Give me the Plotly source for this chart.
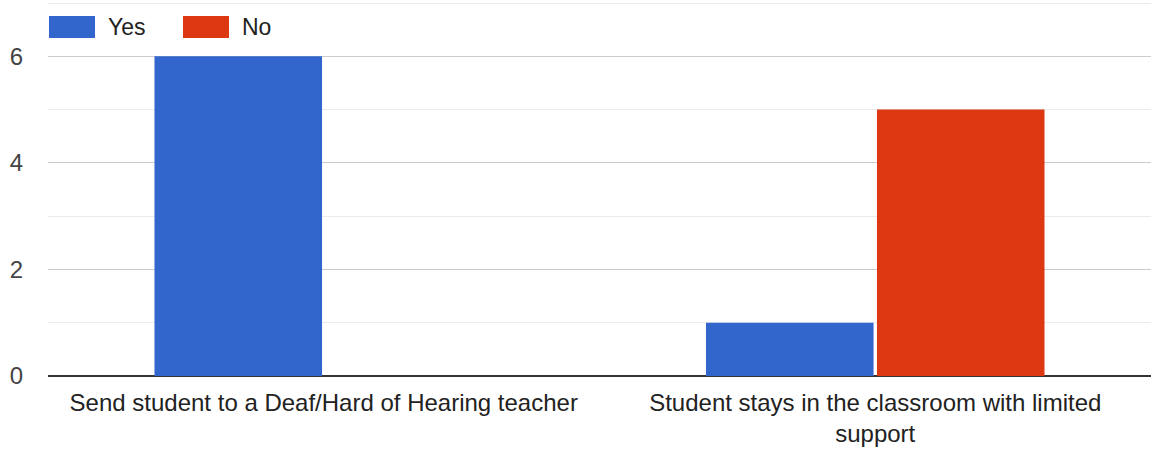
import plotly.graph_objects as go

categories = ["Send student to a Deaf/Hard of Hearing teacher",
              "Student stays in the classroom with limited<br>support"]
yes_values = [6, 1]
no_values = [0, 5]
series_names = ["Yes", "No"]
colors = ["#3366cc", "#dc3912"]

FONT = "Arial, 'Liberation Sans', sans-serif"
FS = 24

fig = go.Figure()
fig.add_trace(go.Bar(x=categories, y=yes_values, name=series_names[0],
                     marker=dict(color=colors[0], line=dict(width=0))))
fig.add_trace(go.Bar(x=categories, y=no_values, name=series_names[1],
                     marker=dict(color=colors[1], line=dict(width=0))))

fig.update_layout(
    width=1151, height=451,
    margin=dict(l=48, r=0, t=2, b=75),
    paper_bgcolor="white", plot_bgcolor="white",
    barmode="group", bargap=0.38, bargroupgap=0.02,
    showlegend=False,
    font=dict(family=FONT, size=FS, color="#222222"),
    xaxis=dict(showgrid=False, tickfont=dict(size=FS, color="#222222"),
               showline=False, ticks="", automargin=False, ticklabelstandoff=10),
    yaxis=dict(range=[0, 7.02], dtick=2, tick0=0, gridcolor="#cccccc", gridwidth=1,
               tickfont=dict(size=FS, color="#444444"), ticklabelstandoff=24,
               zeroline=True, zerolinecolor="#333333", zerolinewidth=2,
               minor=dict(dtick=1, tick0=0, showgrid=True, gridcolor="#ebebeb", gridwidth=1),
               showline=False, ticks="", automargin=False),
)

# legend swatches and labels (paper coords)
PH = 374
legend_items = [(49, 106), (183, 240)]
for (sx, tx), name, col in zip(legend_items, series_names, colors):
    fig.add_shape(type="rect", xref="paper", yref="paper",
                  x0=(sx - 48) / 1103, x1=(sx + 46 - 48) / 1103,
                  y0=(376 - 38) / PH, y1=(376 - 16) / PH,
                  fillcolor=col, line=dict(width=0), layer="above")
    fig.add_annotation(xref="paper", yref="paper", x=(tx - 48) / 1103, y=(376 - 27) / PH,
                       text=name, showarrow=False, xanchor="left", yanchor="middle",
                       font=dict(family=FONT, size=23, color="#222222"))

fig.write_html("out.html", config={"displayModeBar": False},
               post_script="document.body.style.margin='0';document.body.style.overflow='hidden';")
